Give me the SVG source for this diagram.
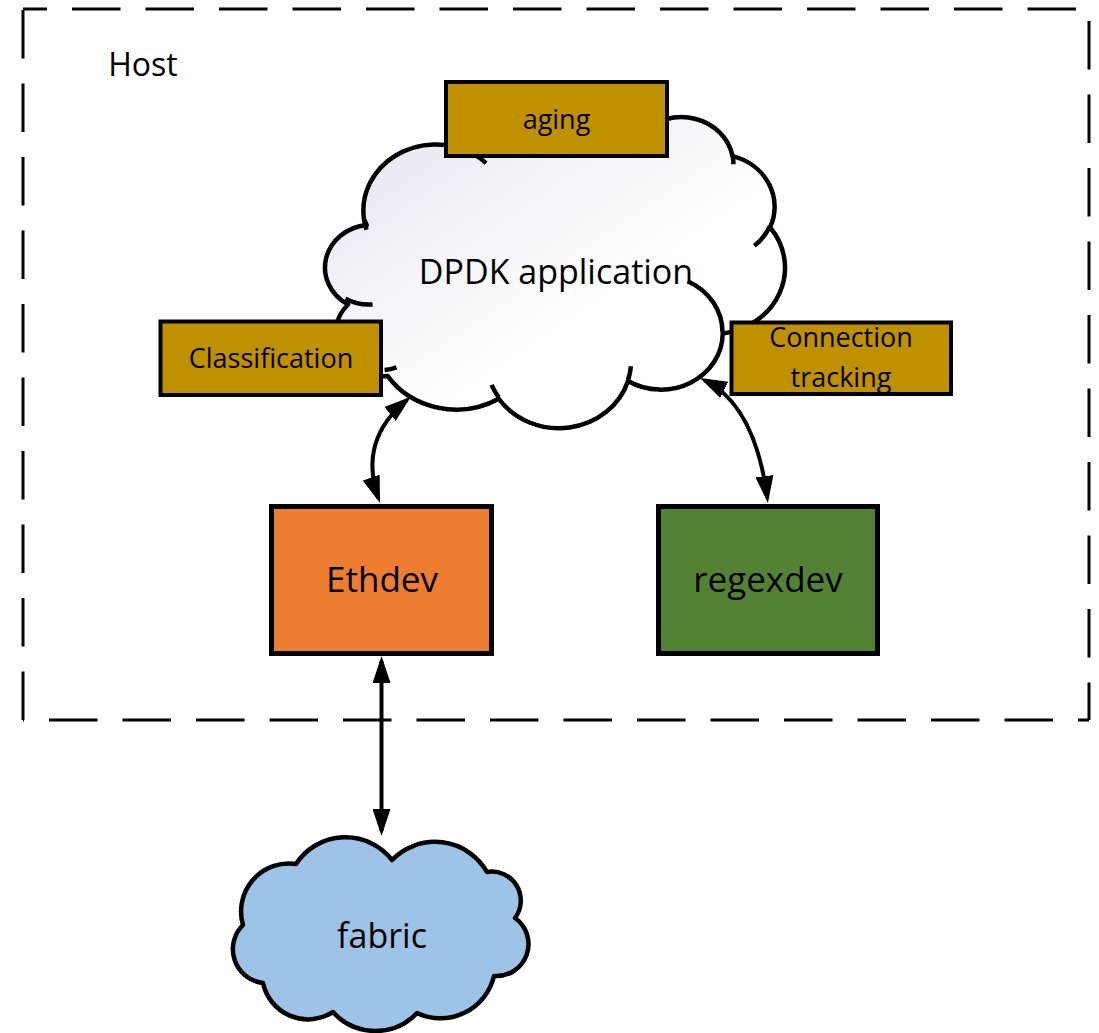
<svg xmlns="http://www.w3.org/2000/svg" width="1099" height="1033" viewBox="0 0 1099 1033">
  <style>
    .lbl { font-family: "Open Sans", "Liberation Sans", sans-serif; fill: #000; text-anchor: middle; }
    .dash { stroke: #000; stroke-width: 3; fill: none; stroke-dasharray: 48.5 25; }
    .gold { fill: #BF9000; stroke: #000; stroke-width: 4; }
    .dev { stroke: #000; stroke-width: 5; }
    .cloud { stroke: #000; stroke-width: 4.5; stroke-linejoin: round; }
    .conn { fill: none; stroke: #000; stroke-width: 4; }
  </style>
  <defs>
    <linearGradient id="cloudFill" x1="0" y1="0" x2="1" y2="1">
      <stop offset="0" stop-color="#E4E4F1"/>
      <stop offset="0.6" stop-color="#FFFFFF"/>
      <stop offset="1" stop-color="#FFFFFF"/>
    </linearGradient>
    <marker id="arr" markerUnits="userSpaceOnUse" markerWidth="28" markerHeight="18" refX="22" refY="9" orient="auto-start-reverse" viewBox="0 0 28 18">
      <path d="M0,0 L27,9 L0,18 Z" fill="#000"/>
    </marker>
  </defs>

  <g id="host">
    <path class="dash" d="M23,9 H1089" stroke-dashoffset="24.5"/>
    <path class="dash" d="M1089,9 V720" stroke-dashoffset="61.5"/>
    <path class="dash" d="M1089,720 H23" stroke-dashoffset="37.5"/>
    <path class="dash" d="M23,720 V9" stroke-dashoffset="0"/>
    <text class="lbl" x="143" y="76" font-size="32">Host</text>
  </g>

  <g id="dpdk">
    <g transform="translate(322.3,116) scale(0.010706,0.0072)">
      <path class="cloud" fill="url(#cloudFill)" vector-effect="non-scaling-stroke" d="M3900 14370 A6753 9190 0 0 1 14005 5203 A5333 7267 0 0 1 22456 3432 A4365 5945 0 0 1 29833 2481 A4857 6595 0 0 1 38319 5576 A5333 7273 0 0 1 41819 15459 A6775 9220 0 0 1 37404 30202 A5785 7867 0 0 1 28556 36812 A6752 9215 0 0 1 16480 39264 A7720 10543 0 0 1 6092 36104 A4360 5918 0 0 1 2401 26182 A4345 5945 0 0 1 4151 15138 Z"/>
      <path class="cloud" fill="none" vector-effect="non-scaling-stroke" d="M4693 26177 A4345 5945 0 0 1 2160 25380 M6928 34899 A4360 5918 0 0 1 5820 35280 M16478 39090 A6752 9215 0 0 1 15810 37348 M28827 34751 A6752 9215 0 0 1 28560 36660 M34129 22954 A5785 7867 0 0 1 37380 30089 M41798 15354 A5333 7273 0 0 1 40350 18030 M38324 5426 A4857 6595 0 0 1 38400 6690 M29078 3952 A4857 6595 0 0 1 29820 2340 M22141 4720 A4365 5945 0 0 1 22500 3330 M14000 5192 A6753 9190 0 0 1 15300 6541 M4127 15789 A6753 9190 0 0 1 3900 14370"/>
    </g>
    <text class="lbl" x="556" y="284" font-size="34">DPDK application</text>
  </g>

  <g id="aging">
    <rect class="gold" x="446" y="82" width="221" height="74"/>
    <text class="lbl" x="556.5" y="129" font-size="27">aging</text>
  </g>

  <g id="classification">
    <rect class="gold" x="160.5" y="321.5" width="220.5" height="73.5"/>
    <text class="lbl" x="271" y="368" font-size="27">Classification</text>
  </g>

  <g id="conntrack">
    <rect class="gold" x="731.5" y="322.5" width="219.5" height="71.5"/>
    <text class="lbl" x="841" y="347" font-size="27">Connection</text>
    <text class="lbl" x="841" y="387" font-size="27">tracking</text>
  </g>

  <g id="ethdev">
    <rect class="dev" fill="#ED7D31" x="271.5" y="506.5" width="220" height="147"/>
    <text class="lbl" x="382" y="592" font-size="35">Ethdev</text>
  </g>

  <g id="regexdev">
    <rect class="dev" fill="#548235" x="658.5" y="506.5" width="219" height="147"/>
    <text class="lbl" x="768" y="592" font-size="35">regexdev</text>
  </g>

  <g id="fabric">
    <path class="cloud" fill="#9DC3E6" d="M392 860 A60 60 0 0 1 487 872 A29 29 0 0 1 515 918 A32 32 0 0 1 494 976 A55 55 0 0 1 417 1013 A57 57 0 0 1 333 1012 A46 46 0 0 1 263 983 A34 34 0 0 1 243 925 A48 48 0 0 1 296 864 A59 59 0 0 1 392 860 Z"/>
    <text class="lbl" x="382" y="948" font-size="34">fabric</text>
  </g>

  <g id="connectors">
    <path class="conn" d="M407 400 Q358 440 378.4 498.3" marker-start="url(#arr)" marker-end="url(#arr)"/>
    <path class="conn" d="M704.5 380.2 Q755 405 767.3 498" marker-start="url(#arr)" marker-end="url(#arr)"/>
    <path class="conn" d="M381.5 661 V831" marker-start="url(#arr)" marker-end="url(#arr)"/>
  </g>
</svg>
